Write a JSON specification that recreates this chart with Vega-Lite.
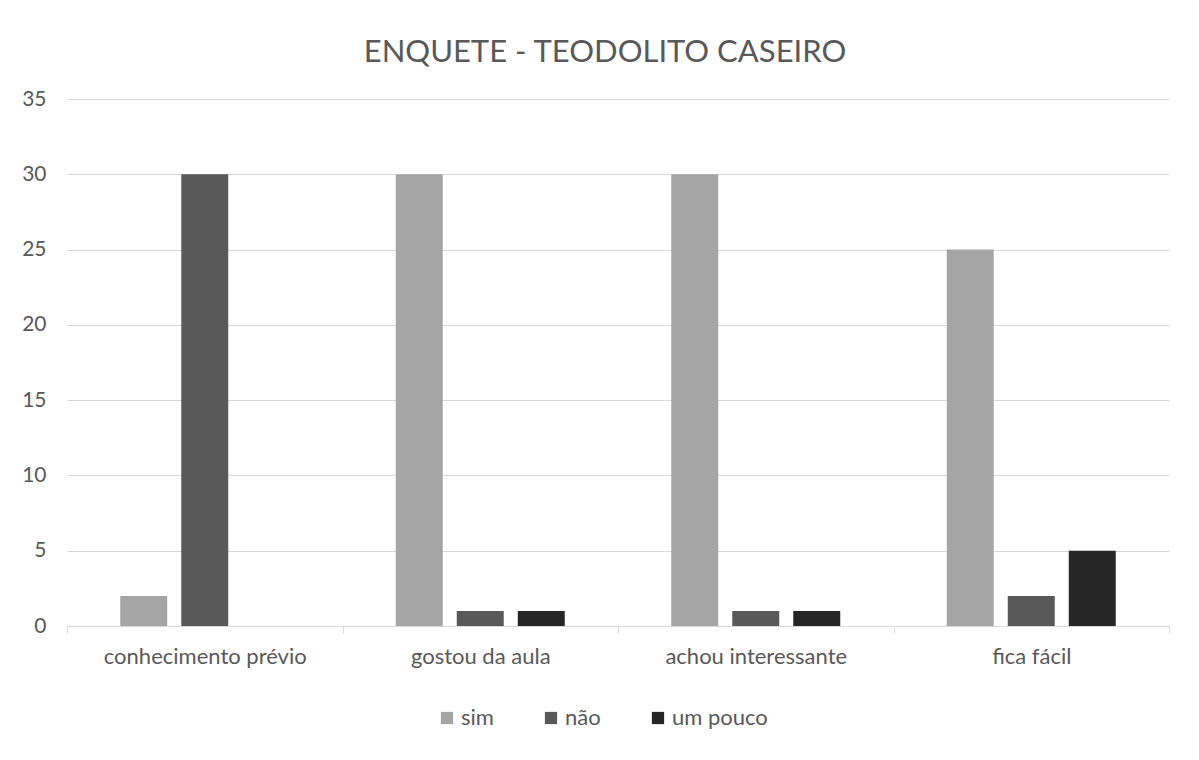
{
  "$schema": "https://vega.github.io/schema/vega-lite/v6.json",
  "width": 1102,
  "height": 527,
  "autosize": {"type": "none"},
  "padding": {"left": 67, "top": 99, "right": 30, "bottom": 134},
  "background": "white",
  "title": {
    "text": "ENQUETE - TEODOLITO CASEIRO",
    "anchor": "middle",
    "font": "Lato",
    "fontSize": 31,
    "fontWeight": "normal",
    "color": "#595959",
    "offset": 19,
    "dx": -13
  },
  "data": {
    "values": [
      {"pergunta": "conhecimento prévio", "resposta": "sim", "n": 2},
      {"pergunta": "conhecimento prévio", "resposta": "não", "n": 30},
      {"pergunta": "conhecimento prévio", "resposta": "um pouco", "n": 0},
      {"pergunta": "gostou da aula", "resposta": "sim", "n": 30},
      {"pergunta": "gostou da aula", "resposta": "não", "n": 1},
      {"pergunta": "gostou da aula", "resposta": "um pouco", "n": 1},
      {"pergunta": "achou interessante", "resposta": "sim", "n": 30},
      {"pergunta": "achou interessante", "resposta": "não", "n": 1},
      {"pergunta": "achou interessante", "resposta": "um pouco", "n": 1},
      {"pergunta": "fica fácil", "resposta": "sim", "n": 25},
      {"pergunta": "fica fácil", "resposta": "não", "n": 2},
      {"pergunta": "fica fácil", "resposta": "um pouco", "n": 5}
    ]
  },
  "mark": {"type": "bar"},
  "encoding": {
    "x": {
      "field": "pergunta",
      "type": "nominal",
      "sort": null,
      "scale": {"paddingInner": 0, "paddingOuter": 0},
      "axis": {
        "title": null,
        "labelAngle": 0,
        "labelLimit": 0,
        "tickBand": "extent",
        "domainColor": "#d9d9d9",
        "tickColor": "#d9d9d9",
        "tickSize": 7,
        "labelFont": "Lato",
        "labelFontSize": 22,
        "labelColor": "#595959",
        "labelPadding": 13
      }
    },
    "xOffset": {
      "field": "resposta",
      "type": "nominal",
      "sort": ["sim", "não", "um pouco"],
      "scale": {"paddingInner": 0.23, "paddingOuter": 0.873}
    },
    "y": {
      "field": "n",
      "type": "quantitative",
      "scale": {"domain": [0, 35], "nice": false},
      "axis": {
        "title": null,
        "values": [0, 5, 10, 15, 20, 25, 30, 35],
        "domain": false,
        "ticks": false,
        "gridColor": "#d9d9d9",
        "labelFont": "Lato",
        "labelFontSize": 21,
        "labelColor": "#595959",
        "labelPadding": 21
      }
    },
    "color": {
      "field": "resposta",
      "type": "nominal",
      "sort": ["sim", "não", "um pouco"],
      "scale": {"domain": ["sim", "não", "um pouco"], "range": ["#a5a5a5", "#595959", "#262626"]},
      "legend": {
        "title": null,
        "orient": "none",
        "direction": "horizontal",
        "legendX": 369,
        "legendY": 608,
        "symbolType": "square",
        "symbolSize": 150,
        "symbolStrokeWidth": 0,
        "labelFont": "Lato",
        "labelFontSize": 22,
        "labelColor": "#595959",
        "labelOffset": 3,
        "columnPadding": 46
      }
    }
  },
  "config": {"view": {"stroke": null}}
}
